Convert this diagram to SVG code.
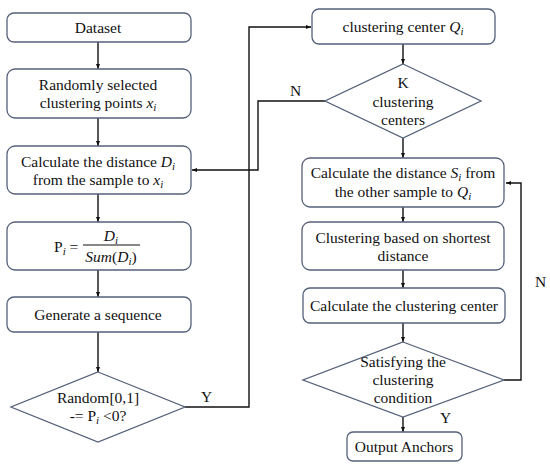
<svg xmlns="http://www.w3.org/2000/svg" width="550" height="469" viewBox="0 0 550 469">
<style>
.box{fill:#fff;stroke:#55617a;stroke-width:1.3}
.ln{fill:none;stroke:#111;stroke-width:1.4}
text{font-family:"Liberation Serif","Times New Roman",serif;font-size:15.5px;fill:#111;text-anchor:middle}
.it{font-style:italic}
.lab{text-anchor:start}
</style>
<defs>
<marker id="ah" viewBox="0 0 10 10" refX="10" refY="5" markerWidth="5" markerHeight="5" orient="auto" markerUnits="userSpaceOnUse">
<path d="M0,1 L10,5 L0,9 z" fill="#111"/>
</marker>
</defs>
<rect width="550" height="469" fill="#fff"/>
<g id="connectors">
<line class="ln" x1="98" y1="42" x2="98" y2="69" marker-end="url(#ah)"/>
<line class="ln" x1="98" y1="118" x2="98" y2="146" marker-end="url(#ah)"/>
<line class="ln" x1="98" y1="194" x2="98" y2="222" marker-end="url(#ah)"/>
<line class="ln" x1="98" y1="270" x2="98" y2="297" marker-end="url(#ah)"/>
<line class="ln" x1="98" y1="332" x2="98" y2="372" marker-end="url(#ah)"/>
<polyline class="ln" points="185,407 249,407 249,27 311,27" marker-end="url(#ah)"/>
<polyline class="ln" points="325,101 258,101 258,170 192,170" marker-end="url(#ah)"/>
<line class="ln" x1="403" y1="44" x2="403" y2="64" marker-end="url(#ah)"/>
<line class="ln" x1="403" y1="138" x2="403" y2="158" marker-end="url(#ah)"/>
<line class="ln" x1="403" y1="207" x2="403" y2="222" marker-end="url(#ah)"/>
<line class="ln" x1="403" y1="270" x2="403" y2="288" marker-end="url(#ah)"/>
<line class="ln" x1="403" y1="323" x2="403" y2="342" marker-end="url(#ah)"/>
<line class="ln" x1="403" y1="417" x2="403" y2="432" marker-end="url(#ah)"/>
<polyline class="ln" points="504,380 521,380 521,183 506,183" marker-end="url(#ah)"/>
<text class="lab" x="201" y="402">Y</text>
<text class="lab" x="290" y="96">N</text>
<text class="lab" x="440" y="423">Y</text>
<text class="lab" x="535" y="287">N</text>
</g>
<g id="dataset">
<rect class="box" x="7" y="13" width="184" height="29" rx="7"/>
<text x="98" y="33">Dataset</text>
</g>
<g id="random-points">
<rect class="box" x="7" y="69" width="184" height="49" rx="8"/>
<text x="98" y="90">Randomly selected</text>
<text x="98" y="108">clustering points <tspan class="it">x</tspan><tspan class="it" font-size="11" dy="3">i</tspan></text>
</g>
<g id="calc-distance-d">
<rect class="box" x="7" y="146" width="184" height="48" rx="8"/>
<text x="98" y="167">Calculate the distance <tspan class="it">D</tspan><tspan class="it" font-size="11" dy="3">i</tspan></text>
<text x="98" y="185">from the sample to <tspan class="it">x</tspan><tspan class="it" font-size="11" dy="3">i</tspan></text>
</g>
<g id="probability">
<rect class="box" x="7" y="222" width="184" height="48" rx="8"/>
<text x="54" y="252" style="text-anchor:start">P<tspan class="it" font-size="11" dy="3">i</tspan><tspan dy="-3"> =</tspan></text>
<line x1="83" y1="245" x2="140" y2="245" stroke="#111" stroke-width="1"/>
<text x="111" y="241"><tspan class="it">D</tspan><tspan class="it" font-size="11" dy="3">i</tspan></text>
<text x="111" y="262"><tspan class="it">Sum</tspan>(<tspan class="it">D</tspan><tspan class="it" font-size="11" dy="3">i</tspan><tspan dy="-3">)</tspan></text>
</g>
<g id="generate">
<rect class="box" x="7" y="297" width="184" height="35" rx="7"/>
<text x="98" y="320">Generate a sequence</text>
</g>
<g id="random-decision">
<polygon class="box" points="98,372 185,407 98,442 11,407"/>
<text x="98" y="403">Random[0,1]</text>
<text x="98" y="421">-= P<tspan class="it" font-size="11" dy="3">i</tspan><tspan dy="-3"> &lt;0?</tspan></text>
</g>
<g id="cluster-center-q">
<rect class="box" x="312" y="9" width="183" height="35" rx="7"/>
<text x="403" y="32">clustering center <tspan class="it">Q</tspan><tspan class="it" font-size="11" dy="3">i</tspan></text>
</g>
<g id="k-centers">
<polygon class="box" points="403,64 481,101 403,138 325,101"/>
<text x="403" y="88">K</text>
<text x="403" y="107">clustering</text>
<text x="403" y="125">centers</text>
</g>
<g id="calc-distance-s">
<rect class="box" x="302" y="158" width="202" height="49" rx="8"/>
<text x="403" y="178">Calculate the distance <tspan class="it">S</tspan><tspan class="it" font-size="11" dy="3">i</tspan><tspan dy="-3"> from</tspan></text>
<text x="403" y="197">the other sample to <tspan class="it">Q</tspan><tspan class="it" font-size="11" dy="3">i</tspan></text>
</g>
<g id="clustering-shortest">
<rect class="box" x="302" y="222" width="202" height="48" rx="8"/>
<text x="403" y="243">Clustering based on shortest</text>
<text x="403" y="261">distance</text>
</g>
<g id="calc-center">
<rect class="box" x="303" y="288" width="202" height="35" rx="7"/>
<text x="404" y="311">Calculate the clustering center</text>
</g>
<g id="satisfy">
<polygon class="box" points="403,342 504,380 403,417 303,380"/>
<text x="403" y="367">Satisfying the</text>
<text x="403" y="385">clustering</text>
<text x="403" y="403">condition</text>
</g>
<g id="output">
<rect class="box" x="347" y="432" width="115" height="29" rx="6"/>
<text x="404" y="452">Output Anchors</text>
</g>
</svg>
